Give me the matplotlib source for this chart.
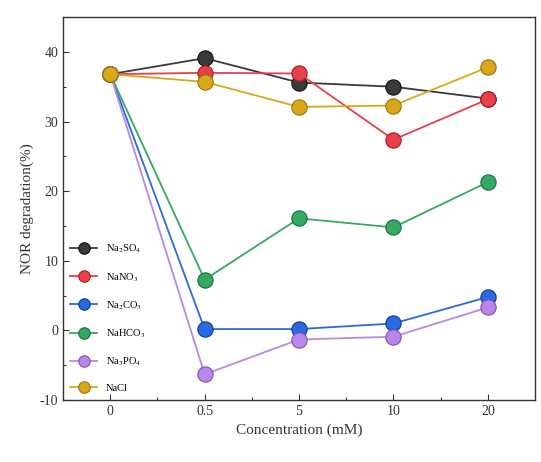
import matplotlib.pyplot as plt

plt.rcParams['font.family'] = ['Liberation Serif', 'DejaVu Serif']
plt.rcParams['mathtext.fontset'] = 'stix'
plt.rcParams['axes.unicode_minus'] = False

concentrations = ["0", "0.5", "5", "10", "20"]
na2so4 = [36.8, 39.1, 35.6, 35.0, 33.3]
nano3 = [36.8, 37.0, 36.9, 27.4, 33.2]
na2co3 = [36.8, 0.2, 0.2, 1.0, 4.8]
nahco3 = [36.8, 7.3, 16.1, 14.8, 21.3]
na3po4 = [36.8, -6.3, -1.3, -0.9, 3.3]
nacl = [36.8, 35.7, 32.1, 32.3, 37.8]

series = [
    (na2so4, r"Na$_2$SO$_4$", "#3a3a3a", "#111111"),
    (nano3, r"NaNO$_3$", "#e8404a", "#b01822"),
    (na2co3, r"Na$_2$CO$_3$", "#2a6ae0", "#0d3aa0"),
    (nahco3, r"NaHCO$_3$", "#35a862", "#1a7040"),
    (na3po4, r"Na$_3$PO$_4$", "#b887e8", "#8050b8"),
    (nacl, "NaCl", "#d8a818", "#9a7208"),
]

fig = plt.figure(figsize=(5.41, 4.62), dpi=100)
ax = fig.add_axes([0.1165, 0.134, 0.8725, 0.829])

x = list(range(len(concentrations)))
for vals, label, color, edge in series:
    ax.plot(x, vals, color=color, lw=1.3, marker="o", markersize=11,
            markerfacecolor=color, markeredgecolor=edge, markeredgewidth=0.8,
            label=label)

ax.set_xlim(-0.5, 4.5)
ax.set_ylim(-10, 45)
ax.set_xticks(x)
ax.set_xticklabels(concentrations)
ax.set_xticks([i + 0.5 for i in x[:-1]], minor=True)
ax.set_yticks([-10, 0, 10, 20, 30, 40])
ax.set_yticks([-5, 5, 15, 25, 35], minor=True)
ax.tick_params(direction="in", labelsize=10, length=4, width=0.8, colors="#333333")
ax.tick_params(which="minor", direction="in", length=2.5, width=0.8, colors="#333333")
for s in ax.spines.values():
    s.set_linewidth(1.0)
    s.set_color("#333333")

ax.set_xlabel("Concentration (mM)", fontsize=11, color="#333333")
ax.set_ylabel("NOR degradation(%)", fontsize=11, color="#333333")

ax.legend(loc="lower left", bbox_to_anchor=(0.0, 0.0), frameon=False,
          fontsize=7.5, handlelength=2.6, labelspacing=1.5,
          borderaxespad=0.3, markerscale=0.75)

fig.savefig("out.png", dpi=100)
